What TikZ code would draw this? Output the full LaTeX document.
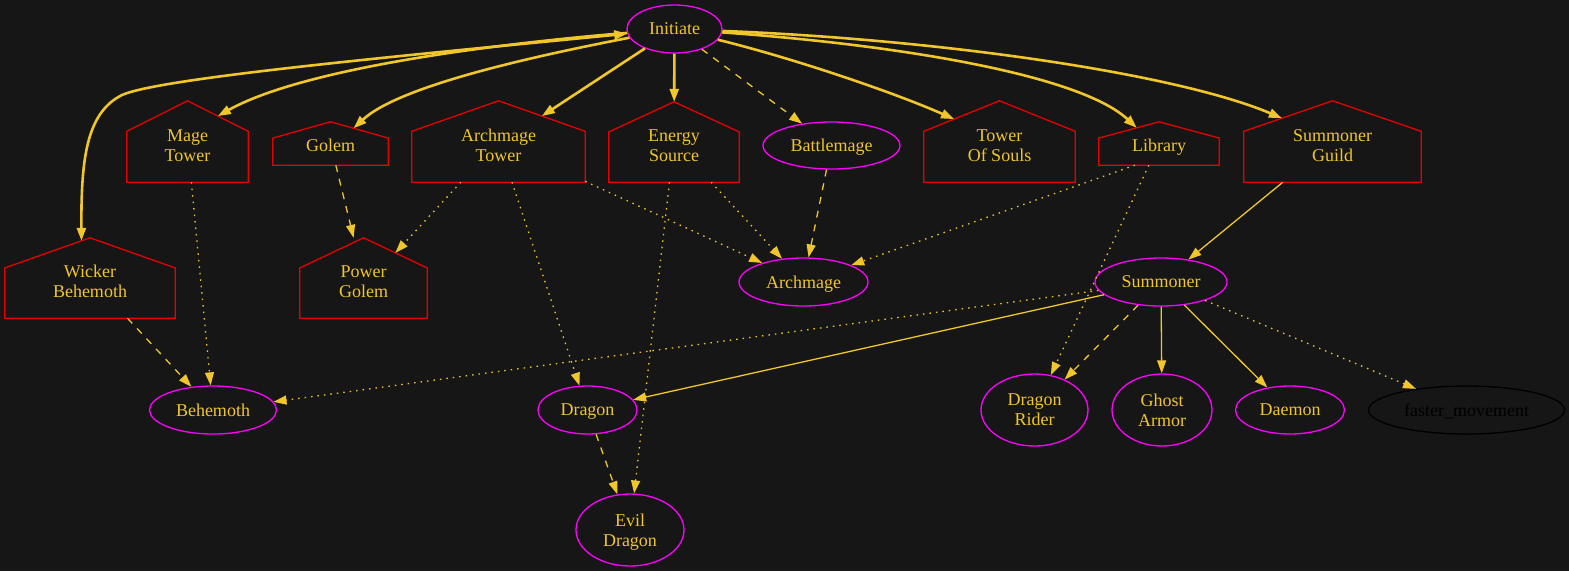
\documentclass[tikz,border=0pt]{standalone}
\usepackage{fontspec}
\setmainfont{Liberation Serif}
\usetikzlibrary{arrows.meta,shapes.geometric,calc}
\definecolor{fondo}{RGB}{22,22,22}
\definecolor{oro}{RGB}{240,198,42}
\definecolor{violeta}{RGB}{255,0,255}
\definecolor{rojo}{RGB}{232,0,0}

\begin{document}
\begin{tikzpicture}[x=1pt, y=-1pt,
  unidad/.style={ellipse, draw=violeta, line width=1.3pt, text=oro, inner sep=0pt,
                 align=center, text depth=0pt, font=\fontsize{18}{20}\selectfont},
  casa/.style={rectangle, inner sep=0pt, text=oro, align=center,
               text height=39pt, text depth=0pt,
               font=\fontsize{18}{20}\selectfont},
  casita/.style={casa, text height=16.5pt},
  borde/.style={draw=rojo, line width=1.3pt},
  flecha/.style={-{Triangle[length=13pt,width=9pt]}, color=oro, line width=1.3pt},
  gruesa/.style={flecha, line width=2.6pt},
  punteada/.style={dash pattern=on 1.5pt off 5pt},
  rayada/.style={dash pattern=on 7pt off 7pt}]
  \fill[fondo] (0,0) rectangle (1569,571);
  \useasboundingbox (0,0) rectangle (1569,571);

  % fila de arriba
  \node[unidad, minimum width=95pt, minimum height=48pt] (init) at (674.5,29) {Initiate};
  \node[casa, minimum width=121pt, minimum height=81pt] (mage) at (187.5,141.5) {Mage\\Tower};
  \node[casita, minimum width=115pt, minimum height=43pt] (golem) at (330.5,143.5) {Golem};
  \node[casa, minimum width=173pt, minimum height=81pt] (atower) at (498.5,141.5) {Archmage\\Tower};
  \node[casa, minimum width=130pt, minimum height=80pt] (energy) at (674,142) {Energy\\Source};
  \node[unidad, minimum width=137pt, minimum height=47pt] (battle) at (831.5,145.5) {Battlemage};
  \node[casa, minimum width=151pt, minimum height=81pt] (souls) at (999.5,141.5) {Tower\\Of Souls};
  \node[casita, minimum width=120pt, minimum height=43pt] (library) at (1159,143.5) {Library};
  \node[casa, minimum width=177pt, minimum height=81pt] (sguild) at (1332.5,141.5) {Summoner\\Guild};

  % fila del medio
  \node[casa, minimum width=170pt, minimum height=80pt] (wicker) at (90,278) {Wicker\\Behemoth};
  \node[casa, minimum width=127pt, minimum height=80pt] (pgolem) at (363.5,278) {Power\\Golem};
  \node[unidad, minimum width=129pt, minimum height=48pt] (archmage) at (803.5,282) {Archmage};
  \node[unidad, minimum width=132pt, minimum height=48pt] (summoner) at (1161,282) {Summoner};

  % fila de abajo
  \node[unidad, minimum width=127pt, minimum height=48pt] (behemoth) at (213,410) {Behemoth};
  \node[unidad, minimum width=99pt, minimum height=48pt] (dragon) at (587.5,410) {Dragon};
  \node[unidad, minimum width=107pt, minimum height=72pt] (drider) at (1034.5,410) {Dragon\\Rider};
  \node[unidad, minimum width=100pt, minimum height=72pt] (ghost) at (1162,410) {Ghost\\Armor};
  \node[unidad, minimum width=109pt, minimum height=48pt] (daemon) at (1290,410) {Daemon};
  \node[unidad, draw=black, text=black, minimum width=196pt, minimum height=48pt] (faster) at (1466.5,410) {faster\_movement};
  \node[unidad, minimum width=108pt, minimum height=72pt] (evil) at (630,530) {Evil\\Dragon};

  % contorno de las casas
  \foreach \n in {mage,golem,atower,energy,souls,library,sguild,wicker,pgolem} {
    \path (\n.north west) -- (\n.south west) coordinate[pos=.375] (\n-w);
    \path (\n.north east) -- (\n.south east) coordinate[pos=.375] (\n-e);
    \draw[borde] (\n.south west) -- (\n-w) -- (\n.north) -- (\n-e) -- (\n.south east) -- cycle;
  }

  % aristas desde Initiate
  \draw[gruesa, {Triangle[length=13pt,width=9pt]}-{Triangle[length=13pt,width=9pt]}]
    (init) .. controls (400,56) and (160,78) .. (122,95)
    .. controls (86,113) and (81,160) .. ($(wicker.north)!.1!(wicker-w)$);
  \draw[gruesa] (init) .. controls (480,45) and (300,70) .. ($(mage.north)!.5!(mage-e)$);
  \draw[gruesa] (init) .. controls (540,55) and (400,85) .. ($(golem.north)!.4!(golem-e)$);
  \draw[gruesa] (init) -- ($(atower.north)!.5!(atower-e)$);
  \draw[gruesa] (init) -- (energy);
  \draw[flecha, rayada] (init) -- (battle);
  \draw[gruesa] (init) .. controls (800,60) and (900,95) .. ($(souls.north)!.6!(souls-w)$);
  \draw[gruesa] (init) .. controls (900,45) and (1080,75) .. ($(library.north)!.37!(library-w)$);
  \draw[gruesa] (init) .. controls (950,40) and (1180,75) .. ($(sguild.north)!.57!(sguild-w)$);

  % resto
  \draw[flecha, punteada] (mage) -- (behemoth);
  \draw[flecha, rayada] (wicker) -- (behemoth);
  \draw[flecha, rayada] (golem) -- (pgolem);
  \draw[flecha, punteada] (atower) -- ($(pgolem.north)!.5!(pgolem-e)$);
  \draw[flecha, punteada] (atower) -- (dragon);
  \draw[flecha, punteada] (atower) -- (archmage);
  \draw[flecha, punteada] (energy) -- (evil);
  \draw[flecha, punteada] (energy) -- (archmage);
  \draw[flecha, rayada] (battle) -- (archmage);
  \draw[flecha, punteada] ($(library.south west)!.3!(library.south east)$) -- (archmage);
  \draw[flecha, punteada] (library) -- (drider);
  \draw[flecha] (sguild) -- (summoner);
  \draw[flecha, punteada] (summoner) -- (behemoth);
  \draw[flecha] (summoner) -- (dragon);
  \draw[flecha, rayada] (summoner) -- (drider);
  \draw[flecha] (summoner) -- (ghost);
  \draw[flecha] (summoner) -- (daemon);
  \draw[flecha, punteada] (summoner) -- (faster);
  \draw[flecha, rayada] (dragon) -- (evil);
\end{tikzpicture}
\end{document}
